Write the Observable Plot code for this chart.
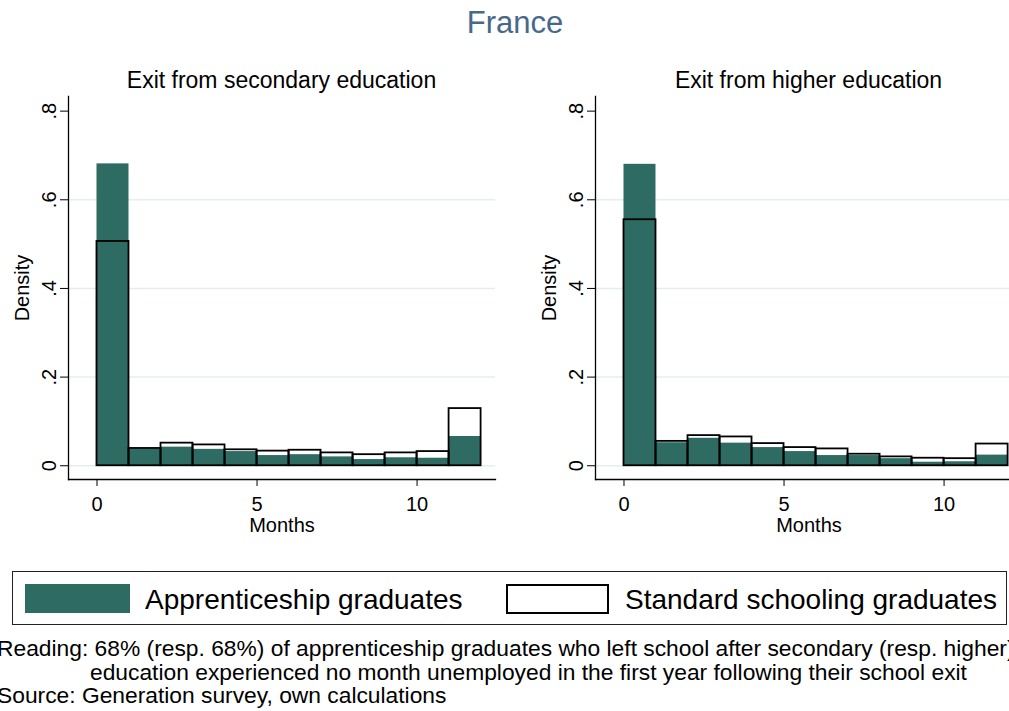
<!DOCTYPE html>
<html><head><meta charset="utf-8">
<script src="https://cdn.jsdelivr.net/npm/d3@7"></script>
<script src="https://cdn.jsdelivr.net/npm/@observablehq/plot@0.6"></script>
<style>
html,body{margin:0;padding:0;background:#fff;overflow:hidden;}
#page{position:relative;width:1009px;height:711px;overflow:hidden;font-family:"Liberation Sans",Arial,sans-serif;color:#000;background:#fff;}
.t{position:absolute;white-space:nowrap;line-height:1;}
.panel{position:absolute;top:90px;}
</style></head><body><div id="page"></div>
<script>
// ---- data ----
const months = [0,1,2,3,4,5,6,7,8,9,10,11];
const secApprentice  = [0.681,0.038,0.042,0.037,0.032,0.023,0.025,0.020,0.014,0.018,0.017,0.066];
const secStandard    = [0.506,0.039,0.051,0.047,0.036,0.033,0.035,0.029,0.025,0.029,0.032,0.129];
const highApprentice = [0.680,0.052,0.062,0.051,0.041,0.032,0.023,0.023,0.016,0.008,0.009,0.024];
const highStandard   = [0.555,0.055,0.068,0.065,0.050,0.041,0.038,0.026,0.020,0.017,0.016,0.049];
const yTicks = [0,0.2,0.4,0.6,0.8];
const gridTicks = [0,0.2,0.4,0.6];
const xTicks = [0,5,10];
const mainTitle = "France";
const panelTitles = ["Exit from secondary education","Exit from higher education"];
const seriesNames = ["Apprenticeship graduates","Standard schooling graduates"];
const captionLines = [
  "Reading: 68% (resp. 68%) of apprenticeship graduates who left school after secondary (resp. higher)",
  "education experienced no month unemployed in the first year following their school exit",
  "Source: Generation survey, own calculations"
];

const teal = "#2e6b62";
const page = document.getElementById("page");

function addText(txt, css) {
  const d = document.createElement("div");
  d.className = "t";
  d.textContent = txt;
  Object.assign(d.style, css);
  page.appendChild(d);
  return d;
}

const fmt = d => d === 0 ? "0" : d3.format(".1f")(d).replace(/^0/, "");

function panel(app, std) {
  const rows = months.map((m, i) => ({m, m2: m + 1, app: app[i], std: std[i]}));
  return Plot.plot({
    width: 500, height: 450,
    marginLeft: 68, marginRight: 5, marginTop: 6, marginBottom: 61,
    x: {domain: [-0.89, 12.45]},
    y: {domain: [-0.031, 0.833]},
    style: {fontFamily: "'Liberation Sans', Arial, sans-serif", background: "white", color: "#000", overflow: "visible"},
    marks: [
      Plot.gridY(gridTicks, {stroke: "#e4edf0", strokeOpacity: 1, strokeWidth: 1.5}),
      Plot.rect(rows, {x1: "m", x2: "m2", y1: 0, y2: "app", fill: teal}),
      Plot.rect(rows, {x1: "m", x2: "m2", y1: 0, y2: "std", fill: "none", stroke: "#000", strokeWidth: 1.8}),
      Plot.axisY({ticks: yTicks, tickFormat: fmt, tickSize: 8, tickRotate: -90, tickPadding: 5,
                  fontSize: 20, label: "Density", labelAnchor: "center", labelOffset: 54, labelArrow: "none"}),
      Plot.axisX({ticks: xTicks, tickSize: 7, tickPadding: 10, fontSize: 20,
                  label: "Months", labelAnchor: "center", labelOffset: 52, labelArrow: "none"}),
      Plot.frame({anchor: "left", stroke: "#000", strokeWidth: 1.3}),
      Plot.frame({anchor: "bottom", stroke: "#000", strokeWidth: 1.3})
    ]
  });
}

const p1 = panel(secApprentice, secStandard);
p1.classList.add("panel"); p1.style.left = "0px";
page.appendChild(p1);
const p2 = panel(highApprentice, highStandard);
p2.classList.add("panel"); p2.style.left = "527px";
page.appendChild(p2);

// titles
addText(mainTitle, {left: "0px", width: "1030px", textAlign: "center", top: "7px", fontSize: "31px", color: "#46698a"});
addText(panelTitles[0], {left: "81.5px", width: "400px", textAlign: "center", top: "69px", fontSize: "23px"});
addText(panelTitles[1], {left: "608.5px", width: "400px", textAlign: "center", top: "69px", fontSize: "23px"});

// legend
const box = document.createElement("div");
Object.assign(box.style, {position: "absolute", left: "12px", top: "571px", width: "993px", height: "52px", border: "1.5px solid #222"});
page.appendChild(box);
const sw1 = document.createElement("div");
Object.assign(sw1.style, {position: "absolute", left: "25px", top: "584px", width: "105px", height: "29px", background: teal});
page.appendChild(sw1);
const sw2 = document.createElement("div");
Object.assign(sw2.style, {position: "absolute", left: "506px", top: "584px", width: "99px", height: "26px", background: "#fff", border: "2px solid #000"});
page.appendChild(sw2);
addText(seriesNames[0], {left: "145px", top: "586px", fontSize: "28px"});
addText(seriesNames[1], {left: "625px", top: "586px", fontSize: "28px"});

// caption
addText(captionLines[0], {left: "-3px", top: "637px", fontSize: "22.8px", lineHeight: "22px"});
addText(captionLines[1], {left: "90px", top: "661px", fontSize: "22.8px", lineHeight: "22px"});
addText(captionLines[2], {left: "-3px", top: "684px", fontSize: "22.8px", lineHeight: "22px"});
</script></body></html>
